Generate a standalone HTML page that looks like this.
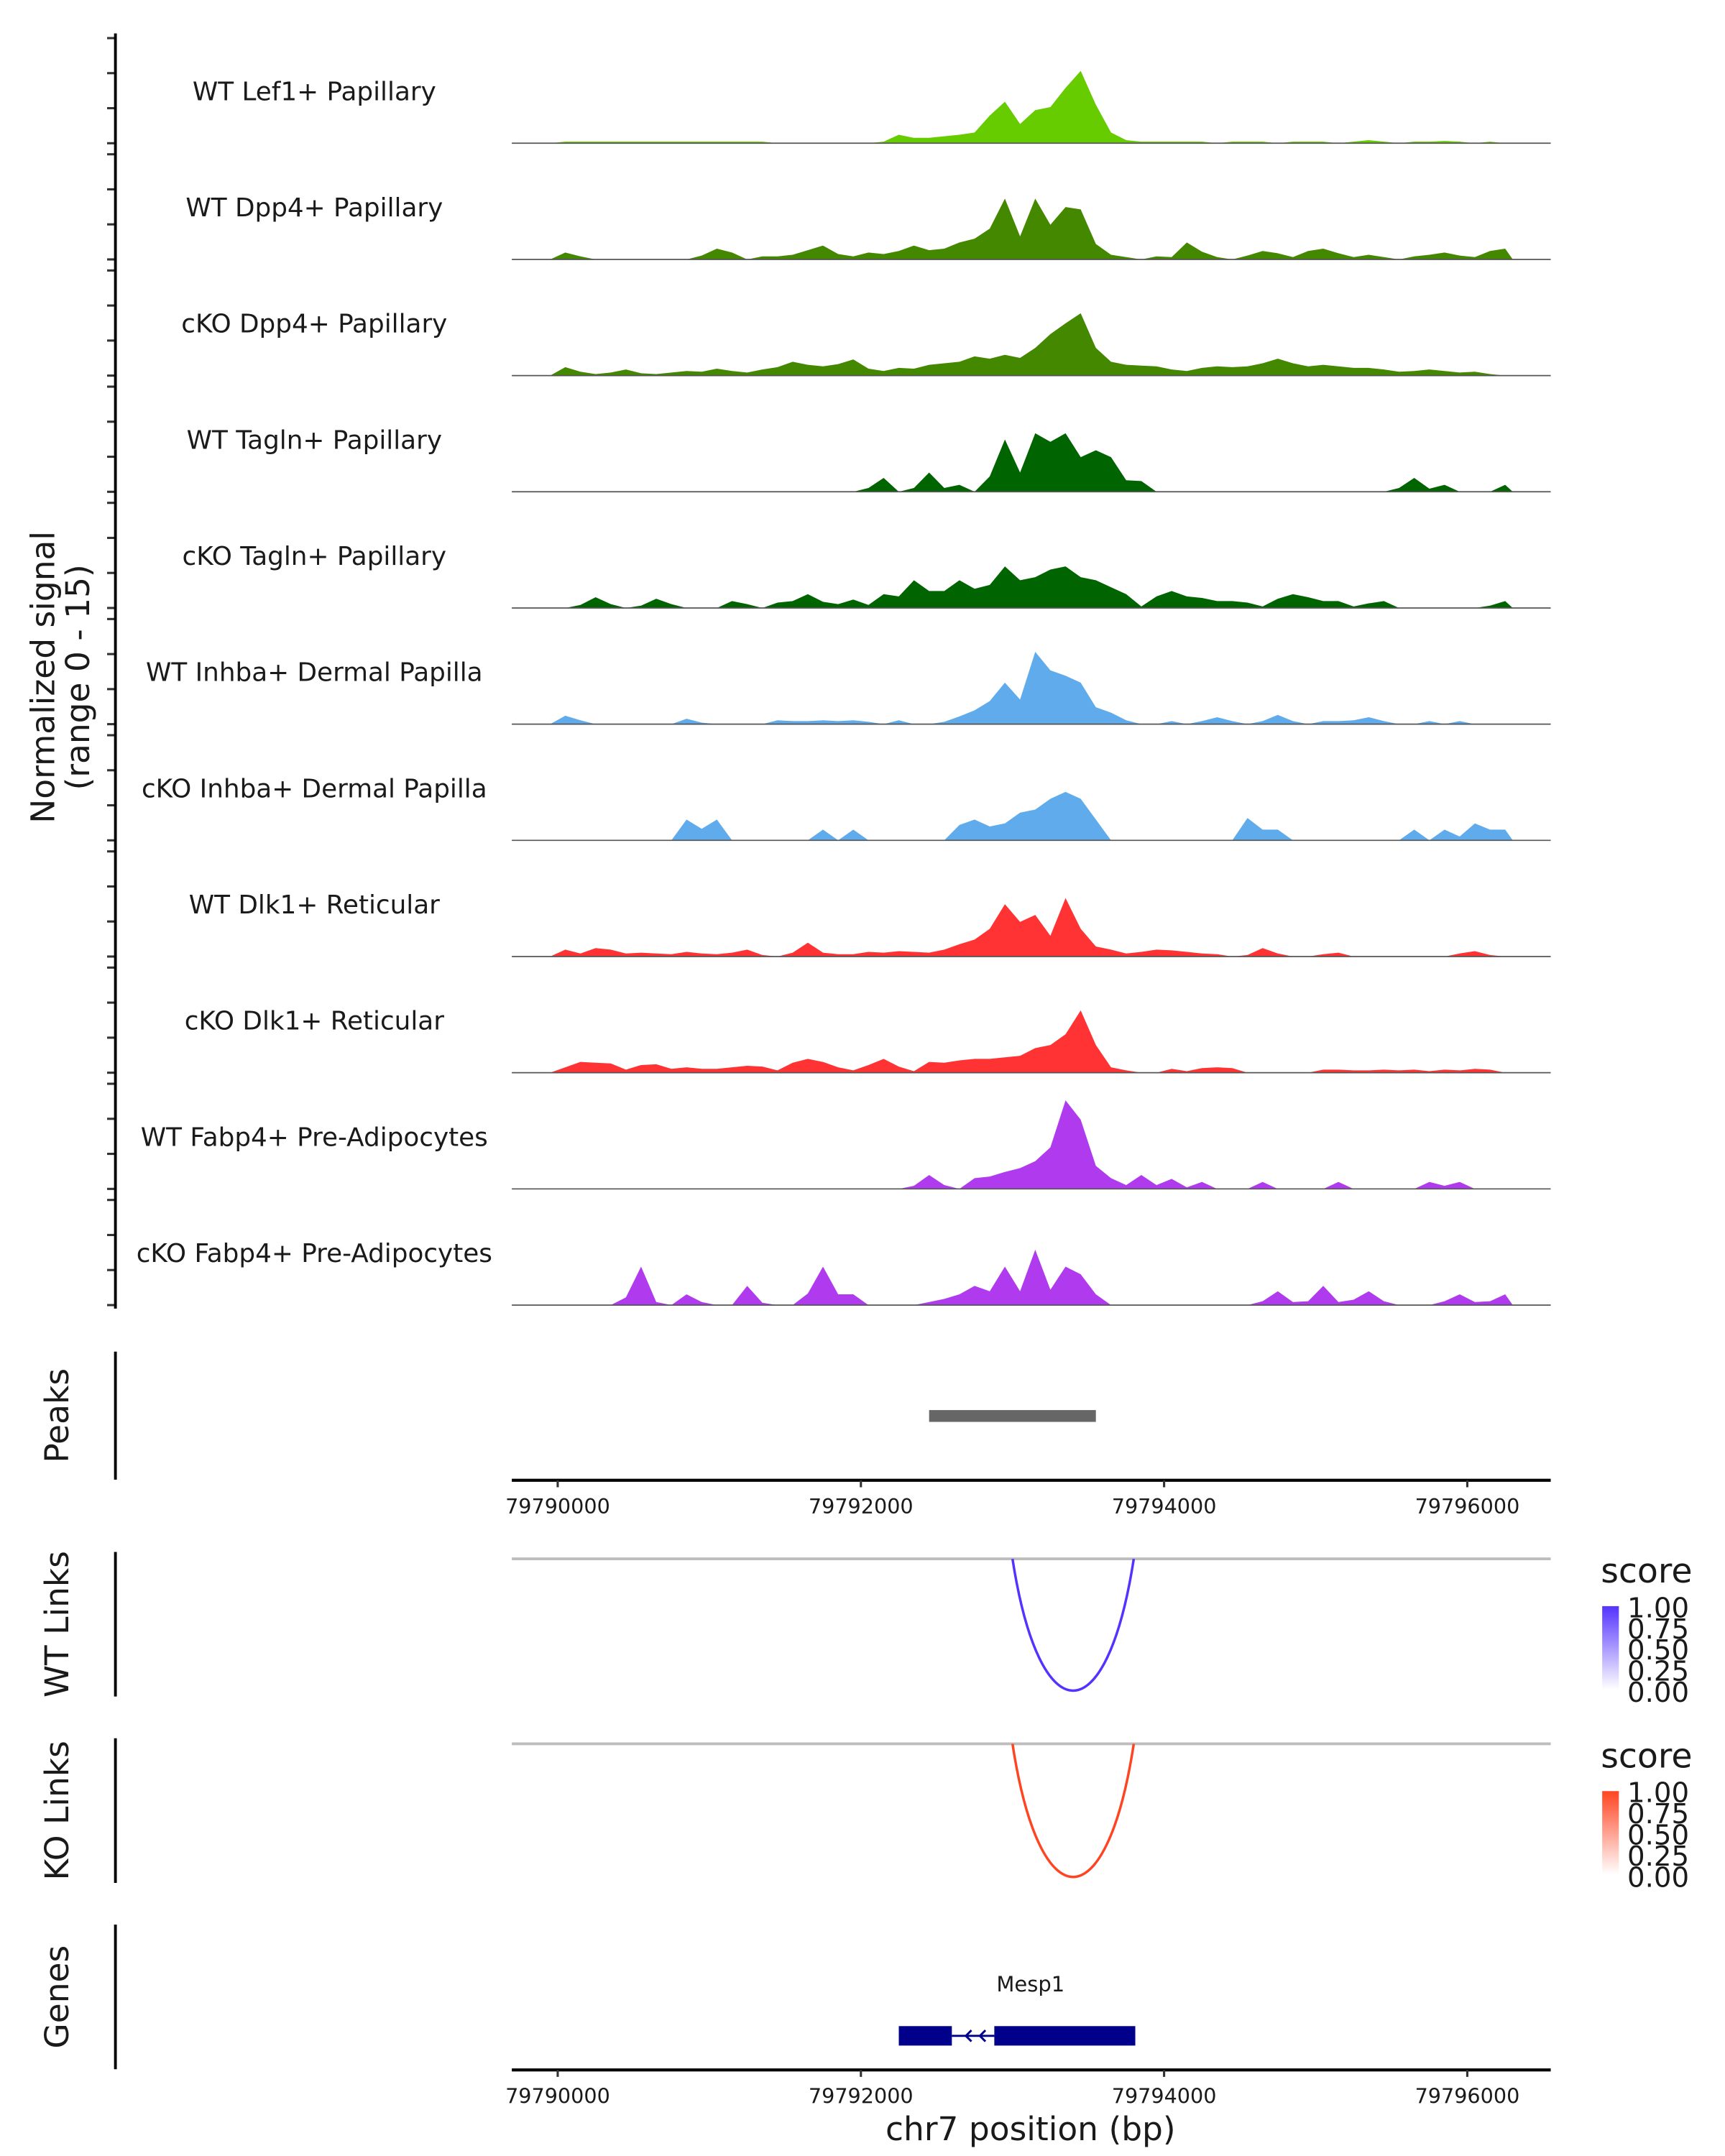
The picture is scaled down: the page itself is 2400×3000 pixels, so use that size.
<!DOCTYPE html>
<html><head><meta charset="utf-8"><style>
html,body{margin:0;padding:0;background:#fff}
svg{display:block}
text{font-family:"DejaVu Sans","Liberation Sans",sans-serif;fill:#1a1a1a}
</style></head><body>
<svg id="chart" width="2400" height="3000" viewBox="0 0 1240.3 1550.4" preserveAspectRatio="none" xmlns="http://www.w3.org/2000/svg">
<g id="tracks"></g>
<g id="axes"></g>
</svg>
<script>
const trackNames = ["WT Lef1+ Papillary","WT Dpp4+ Papillary","cKO Dpp4+ Papillary","WT Tagln+ Papillary","cKO Tagln+ Papillary","WT Inhba+ Dermal Papilla","cKO Inhba+ Dermal Papilla","WT Dlk1+ Reticular","cKO Dlk1+ Reticular","WT Fabp4+ Pre-Adipocytes","cKO Fabp4+ Pre-Adipocytes"];
const trackColors = ["#66cc00","#448800","#448800","#006400","#006400","#5fabeb","#5fabeb","#ff3333","#ff3333","#b03aee","#b03aee"];
const binStart = 79789800;
const binSize = 100;
const lef1WT = [0,0,.2,.2,.2,.2,.2,.2,.2,.2,.2,.2,.2,.2,.2,.2,0,0,0,0,0,0,0,.2,1.1,.7,.7,.9,1.1,1.4,3.6,5.4,2.5,4.3,4.7,7.2,9.4,5,1.4,.4,.2,.2,.2,.2,.2,0,.2,.2,.2,0,.2,.2,.2,0,.2,.4,.2,0,.2,.2,.3,.2,0,.2,0];
const dpp4WT = [0,0,.9,.4,0,0,0,0,0,0,0,.5,1.4,.9,0,.4,.4,.6,1.2,1.8,.7,.4,.9,.7,1.1,1.8,1.2,1.4,2.2,2.7,4,7.9,3,7.9,4.5,6.8,6.5,2,.6,.3,0,.4,.3,2.2,1,.3,0,.5,1.1,.8,.3,1.1,1.4,.8,.3,.6,.3,0,.4,.6,.9,.5,.3,1.1,1.4];
const dpp4KO = [0,0,1.1,.5,.2,.4,.8,.3,.2,.4,.6,.5,.9,.6,.4,.8,1.1,1.8,1.4,1.2,1.5,2.1,.9,.6,1,.9,1.4,1.6,1.8,2.5,2.2,2.7,2.3,3.6,5.4,6.8,8.1,3.6,1.8,1.4,1.3,1.2,.8,.6,1,1.2,1.1,1.2,1.6,2.2,1.6,1.2,1.4,1.2,1,1,.8,.5,.6,.8,.6,.4,.5,.2,0];
const taglnWT = [0,0,0,0,0,0,0,0,0,0,0,0,0,0,0,0,0,0,0,0,0,0,.5,1.8,0,.5,2.5,.5,.9,0,2,6.8,2.5,7.6,6.5,7.6,4.5,5.4,4.5,1.5,1.4,0,0,0,0,0,0,0,0,0,0,0,0,0,0,0,0,.5,1.8,.4,.9,0,0,0,.9];
const taglnKO = [0,0,0,.4,1.4,.5,0,.3,1.2,.5,0,0,0,.9,.5,0,.7,.9,1.8,.8,.5,1.1,.4,1.8,1.5,3.6,2.2,2.2,3.6,2.5,3,5.4,3.6,4,5,5.4,4,3.6,2.7,1.8,.2,1.5,2.2,1.5,1.3,.9,.9,.7,.2,1.2,1.8,1.4,.9,.9,.2,.6,.9,0,0,0,0,0,0,.3,.9];
const inhbaWT = [0,0,1.1,.5,0,0,0,0,0,0,.7,.2,0,0,0,0,.5,.4,.4,.5,.4,.5,.3,0,.5,0,0,.3,1,1.8,3,5.4,3.2,9.4,7,6.3,5.4,2.2,1.5,.5,0,0,.4,0,.4,.9,.4,0,.4,1.2,.4,0,.4,.4,.5,.9,.4,0,0,.4,0,.4,0,0,0];
const inhbaKO = [0,0,0,0,0,0,0,0,0,0,2.7,1.5,2.7,0,0,0,0,0,0,1.4,0,1.4,0,0,0,0,0,0,2,2.7,1.8,2.2,3.6,4,5.4,6.3,5.4,2.7,0,0,0,0,0,0,0,0,0,2.9,1.4,1.4,0,0,0,0,0,0,0,0,1.4,0,1.4,.5,2.2,1.4,1.4];
const dlk1WT = [0,0,.9,.4,1.1,.9,.4,.5,.4,.3,.6,.4,.3,.5,.9,.2,0,.5,1.8,.5,.3,.3,.6,.5,.7,.6,.5,.9,1.6,2.2,3.6,6.8,4.5,5.4,2.7,7.6,3.6,1.3,.9,.4,.6,.9,.8,.6,.4,.3,0,.2,1.1,.4,0,0,.3,.5,0,0,0,0,0,0,0,.4,.7,.2,0];
const dlk1KO = [0,0,.7,1.4,1.3,1.2,.4,1,1.1,.5,.7,.5,.5,.7,.9,.8,.3,1.3,1.8,1.4,.7,.3,1,1.8,.8,.2,1.4,1.3,1.6,1.8,1.8,2,2.2,3.2,3.6,5,8.1,3.6,.7,.3,0,0,.5,.2,.6,.7,.6,0,0,0,0,0,.4,.4,.3,.3,.4,.3,.4,.2,.4,.3,.5,.4,0];
const fabp4WT = [0,0,0,0,0,0,0,0,0,0,0,0,0,0,0,0,0,0,0,0,0,0,0,0,0,.4,1.8,.5,0,1.4,1.6,2.2,2.7,3.6,5.4,11.5,9,3,1.4,.5,1.8,.5,1.3,.2,.9,0,0,0,.9,0,0,0,0,.9,0,0,0,0,0,.9,.4,.9,0,0,0];
const fabp4KO = [0,0,0,0,0,0,1,5,.4,0,1.4,.4,0,0,2.5,.3,0,0,1.5,5,1.4,1.4,0,0,0,0,.4,.8,1.4,2.5,1.8,5,1.8,7.2,2,5,4,1.4,0,0,0,0,0,0,0,0,0,0,.5,1.8,.4,.5,2.5,.4,.7,1.8,.5,0,0,0,.5,1.4,.4,.5,1.4];
const allSeries = [lef1WT,dpp4WT,dpp4KO,taglnWT,taglnKO,inhbaWT,inhbaKO,dlk1WT,dlk1KO,fabp4WT,fabp4KO];
const xTicks = [79790000,79792000,79794000,79796000];
const peaks = [[79792450,79793550]];
const wtLinks = [[79793000,79793800,1.0]];
const koLinks = [[79793000,79793800,1.0]];
const geneName = "Mesp1";
const geneExons = [[79792250,79792600],[79792880,79793810]];
const legendTicks = ["1.00","0.75","0.50","0.25","0.00"];

const NS="http://www.w3.org/2000/svg";
function xs(bp){return 401 + (bp-79790000)*0.109;}
const trackTop=20, trackStep=83.55, trackH=83, yMax=15;
function ys(v,i){const base=trackTop+83+i*trackStep; return base - v/yMax*trackH;}
function mk(tag,attrs,parent){const e=document.createElementNS(NS,tag);for(const k in attrs)e.setAttribute(k,attrs[k]);parent.appendChild(e);return e;}
const T=document.getElementById('tracks'), A=document.getElementById('axes');

allSeries.forEach((s,i)=>{
  const base=ys(0,i);
  let d='M'+xs(binStart)+','+base;
  s.forEach((v,j)=>{const xc=xs(binStart+(j+0.5)*binSize);d+=' L'+xc+','+ys(v,i);});
  d+=' L'+xs(binStart+s.length*binSize)+','+base+' Z';
  const p=mk('path',{d:d,fill:trackColors[i]},T);
  
  
  const bl=mk('line',{x1:368,x2:1115,y1:base,y2:base,stroke:'#555','stroke-width':0.9},T);
  
  
  const t=mk('text',{x:226,y:base-31,'text-anchor':'middle','font-size':18.5},T);
  t.textContent=trackNames[i];
  
  
  for(let k=0;k<4;k++){const ty=base-k*25.2;const tk=mk('line',{x1:77,x2:83,y1:ty,y2:ty,stroke:'#333','stroke-width':1.6},A);
    
    }
});
mk('line',{x1:83,x2:83,y1:24,y2:941,stroke:'#000','stroke-width':2},A);
const yt=mk('text',{transform:'translate(41,487) rotate(-90)','text-anchor':'middle','font-size':23.5},A);


yt.innerHTML='<tspan x="0" dy="-2">Normalized signal</tspan><tspan x="0" dy="25">(range 0 - 15)</tspan>';

function sideLabel(txt,y0,y1,name){
  const l=mk('line',{x1:83,x2:83,y1:y0,y2:y1,stroke:'#000','stroke-width':2},A);
  
  
  const t=mk('text',{transform:'translate(41,'+((y0+y1)/2)+') rotate(-90)','text-anchor':'middle','font-size':23.5,dy:8},A);
  t.textContent=txt;
  
  
}
sideLabel('Peaks',972,1064,'peaks');
sideLabel('WT Links',1116,1220,'wt-links');
sideLabel('KO Links',1250,1354,'ko-links');
sideLabel('Genes',1384,1488,'genes');

peaks.forEach(p=>{const r=mk('rect',{x:xs(p[0]),y:1014,width:xs(p[1])-xs(p[0]),height:8.5,fill:'#666'},T);
  
  });

function xAxis(y,name){
  const l=mk('line',{x1:368,x2:1115,y1:y,y2:y,stroke:'#000','stroke-width':2.2},A);
  
  
  xTicks.forEach(v=>{mk('line',{x1:xs(v),x2:xs(v),y1:y,y2:y+5,stroke:'#333','stroke-width':1.6},A);
    const t=mk('text',{x:xs(v),y:y+24,'text-anchor':'middle','font-size':14.8,fill:'#4d4d4d'},A);
    t.textContent=v;
    
    });
}
xAxis(1064.5,'peaks-x-axis');
xAxis(1488.5,'genes-x-axis');
const xt=mk('text',{x:741,y:1539,'text-anchor':'middle','font-size':23.5},A);
xt.textContent='chr7 position (bp)';



function links(arr,top,bottom,col,name){
  const hl=mk('line',{x1:368,x2:1115,y1:top,y2:top,stroke:'#bdbdbd','stroke-width':2},T);
  
  
  arr.forEach(a=>{const x0=xs(a[0]),x1=xs(a[1]),xm=(x0+x1)/2;
    const d='M'+x0+','+top+' C'+(x0+(xm-x0)*0.45)+','+(bottom+(bottom-top)*0.33)+' '+(x1-(x1-xm)*0.45)+','+(bottom+(bottom-top)*0.33)+' '+x1+','+top;
    const p=mk('path',{d:d,fill:'none',stroke:col,'stroke-width':1.8,opacity:0.4+0.6*a[2]},T);
    
    });
  const ly=top-12;
  const gid=name+'-grad';
  const defs=mk('defs',{},A);
  const g=mk('linearGradient',{id:gid,x1:0,y1:1,x2:0,y2:0},defs);
  mk('stop',{offset:0,'stop-color':'#fff'},g);mk('stop',{offset:1,'stop-color':col},g);
  const r=mk('rect',{x:1152,y:ly+46,width:12,height:60,fill:'url(#'+gid+')'},A);
  
  
  const st=mk('text',{x:1151,y:ly+29,'font-size':24.5},A);
  st.textContent='score';
  
  
  legendTicks.forEach((lt,k)=>{const t=mk('text',{x:1170,y:ly+54+k*15.2,'font-size':20},A);t.textContent=lt;
    
    });
}
links(wtLinks,1121,1216,'#5533ff','wt-links');
links(koLinks,1254,1350,'#ff4422','ko-links');

const gy=1464;
const intron=mk('line',{x1:xs(geneExons[0][1]),x2:xs(geneExons[1][0]),y1:gy,y2:gy,stroke:'#00008b','stroke-width':1.5},T);


geneExons.forEach(e=>{const r=mk('rect',{x:xs(e[0]),y:gy-7,width:xs(e[1])-xs(e[0]),height:14,fill:'#00008b'},T);
  
  });
[0.33,0.66].forEach(f=>{const ax=xs(geneExons[0][1])+f*(xs(geneExons[1][0])-xs(geneExons[0][1]));
  mk('path',{d:'M'+(ax+4)+','+(gy-4)+' L'+ax+','+gy+' L'+(ax+4)+','+(gy+4),fill:'none',stroke:'#00008b','stroke-width':1.5},T);});
const gn=mk('text',{x:741,y:1432,'text-anchor':'middle','font-size':15},T);
gn.textContent=geneName;


</script>
</body></html>
